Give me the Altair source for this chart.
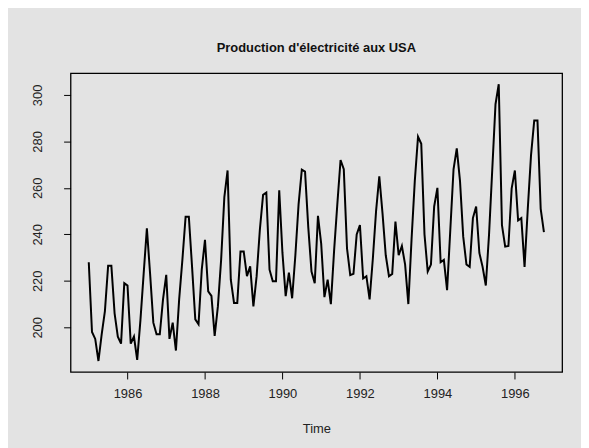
import altair as alt
import pandas as pd

start_year = 1985
values = [
    # 1985
    228, 198, 195, 185.5, 197, 207, 226.5, 226.5, 206, 196, 193, 219,
    # 1986
    218, 193, 196, 186, 203, 223, 242.6, 223, 202, 197, 197, 212,
    # 1987
    222.6, 195, 202, 190, 212, 229, 247.6, 247.6, 226, 203.4, 201.3, 224.8,
    # 1988
    237.6, 215.5, 213.5, 196.3, 209, 229, 256, 267.5, 220.5, 210.5, 210.5, 232.6,
    # 1989
    232.6, 222, 226.2, 209, 222, 242, 257, 258, 224.8, 219.8, 219.8, 259,
    # 1990
    232, 213.4, 223.5, 212.5, 231, 253, 267.8, 267, 243, 224, 219, 248,
    # 1991
    236, 213, 220.5, 210, 233, 253, 272, 268, 234, 222.5, 223, 240,
    # 1992
    244, 221, 222, 212, 229.5, 250, 265, 249, 231, 222, 223, 245.5,
    # 1993
    231, 235, 227, 210, 238, 263, 282, 279, 240, 224, 227, 252,
    # 1994
    260, 228, 229, 216, 242, 268, 277, 263, 239, 227, 226, 247,
    # 1995
    252, 232, 226, 218, 240, 268, 296, 304.6, 244, 234.7, 235, 259.7,
    # 1996
    267.5, 246, 247, 226, 251, 274, 289, 289, 251, 241,
]
x_ticks = [1986, 1988, 1990, 1992, 1994, 1996]
y_ticks = [200, 220, 240, 260, 280, 300]
title_text = "Production d'électricité aux USA"
x_title = "Time"

df = pd.DataFrame({
    "time": [start_year + i / 12 for i in range(len(values))],
    "value": values,
})

FONT = "Liberation Sans"
BG = "#E3E3E3"

chart = alt.Chart(df).mark_line(color="black", strokeWidth=2).encode(
    x=alt.X(
        "time:Q",
        scale=alt.Scale(domain=[1984.53, 1997.22], nice=False, zero=False),
        axis=alt.Axis(
            values=x_ticks, format="d", title=x_title, grid=False, domain=False,
            tickSize=7, tickColor="black", tickWidth=1,
            labelFont=FONT, labelFontSize=13, labelColor="#222222", labelPadding=9,
            titleFont=FONT, titleFontSize=13, titleFontWeight="normal",
            titleColor="#222222", titlePadding=22,
        ),
    ),
    y=alt.Y(
        "value:Q",
        scale=alt.Scale(domain=[180.77, 309.4], nice=False, zero=False),
        axis=alt.Axis(
            values=y_ticks, title=None, grid=False, domain=False,
            tickSize=7, tickColor="black", tickWidth=1,
            labelFont=FONT, labelFontSize=13, labelColor="#222222",
            labelAngle=270, labelAlign="center", labelBaseline="bottom",
            labelPadding=19,
        ),
    ),
).properties(
    width=495,
    height=301,
    title=alt.TitleParams(
        text=title_text, font=FONT, fontSize=13, fontWeight="bold",
        color="#111111", anchor="middle", baseline="alphabetic", offset=8,
    ),
    autosize=alt.AutoSizeParams(type="none"),
    padding={"left": 63, "top": 64, "right": 19, "bottom": 75},
).configure(
    background=BG,
).configure_view(
    fill=BG, stroke="black", strokeWidth=1.3,
)

chart.save("out.html", embed_options={"renderer": "svg", "actions": False})
